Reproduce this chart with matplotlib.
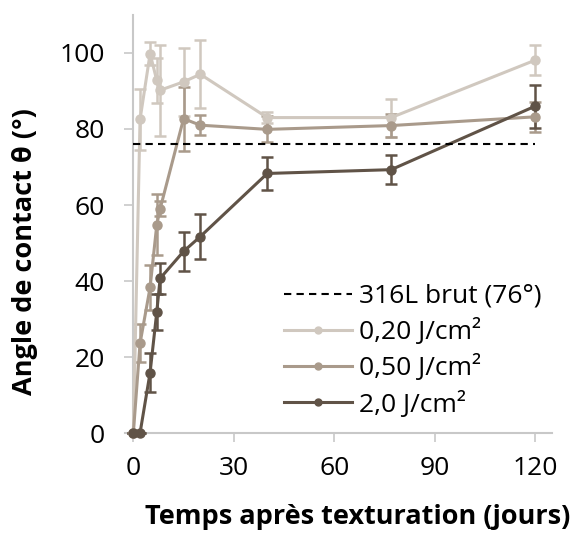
import numpy as np
import matplotlib
matplotlib.use('Agg')
import matplotlib.pyplot as plt
from matplotlib.lines import Line2D

plt.rcParams['font.family'] = ['Open Sans', 'DejaVu Sans']

# jours après texturation
jours_020 = [0, 2, 5, 7, 8, 15, 20, 40, 77, 120]
angle_020 = [0, 82.5, 99.8, 92.8, 90.2, 92.4, 94.4, 83.0, 83.0, 98.1]
err_020 = [0, 8, 3, 6, 12, 9, 9, 1.5, 5, 4]

jours_050 = [0, 2, 5, 7, 8, 15, 20, 40, 77, 120]
angle_050 = [0, 23.6, 38.3, 54.8, 59.0, 82.7, 81.0, 79.9, 80.9, 83.2]
err_050 = [0, 5, 6, 8, 2, 8.4, 2.6, 3.4, 3, 4]

jours_200 = [0, 2, 5, 7, 8, 15, 20, 40, 77, 120]
angle_200 = [0, 0, 15.9, 31.9, 40.7, 47.8, 51.7, 68.3, 69.3, 86.0]
err_200 = [0, 0, 5.2, 4.7, 4, 5.2, 6, 4.3, 3.8, 5.7]

ref_brut = 76

series = [
    (jours_020, angle_020, err_020, "#d0c8bf", "0,20 J/cm²"),
    (jours_050, angle_050, err_050, "#a99a8b", "0,50 J/cm²"),
    (jours_200, angle_200, err_200, "#605347", "2,0 J/cm²"),
]

fig = plt.figure(figsize=(5.84, 5.34), dpi=100)
ax = fig.add_axes([0.214, 0.189, 0.731, 0.783])

ax.plot([0, 120], [ref_brut, ref_brut], ls=(0, (3.5, 2.5)), color="black",
        lw=1.5, zorder=5)
handles = [Line2D([], [], ls=(0, (3.5, 2.5)), color="black", lw=1.5)]
labels = ["316L brut (76°)"]

for x, y, e, c, lab in series:
    ax.errorbar(x, y, yerr=e, color=c, lw=2.2, marker="o", ms=6.5,
                capsize=4, capthick=1.8, elinewidth=1.8,
                clip_on=False, zorder=3)
    handles.append(Line2D([], [], color=c, lw=2.2, marker="o", ms=5))
    labels.append(lab)

ax.set_xlim(-2.5, 125)
ax.set_ylim(0, 110)
ax.set_xticks([0, 30, 60, 90, 120])
ax.set_yticks([0, 20, 40, 60, 80, 100])

for s in ["top", "right"]:
    ax.spines[s].set_visible(False)
ax.spines["left"].set_position(("data", 0))
for s in ["left", "bottom"]:
    ax.spines[s].set_color("#c8c8c8")
    ax.spines[s].set_linewidth(1.5)
ax.tick_params(colors="#c8c8c8", labelcolor="black", length=6.5, width=1.2,
               labelsize=19)
ax.tick_params(axis="y", pad=14)
ax.tick_params(axis="x", pad=10)

ax.set_xlabel("Temps après texturation (jours)", fontsize=19.5, fontweight="bold")
ax.xaxis.set_label_coords(0.546, -0.17)
ax.set_ylabel("Angle de contact θ (°)", fontsize=19.5, fontweight="bold")
ax.yaxis.set_label_coords(-0.204, 0.435)

ax.legend(handles, labels, loc="lower right", bbox_to_anchor=(1.0, 0.012),
          frameon=False, fontsize=19, handlelength=2.6, handletextpad=0.25,
          labelspacing=0.35, borderaxespad=0)

fig.savefig("out.png", dpi=100)
plt.close()
